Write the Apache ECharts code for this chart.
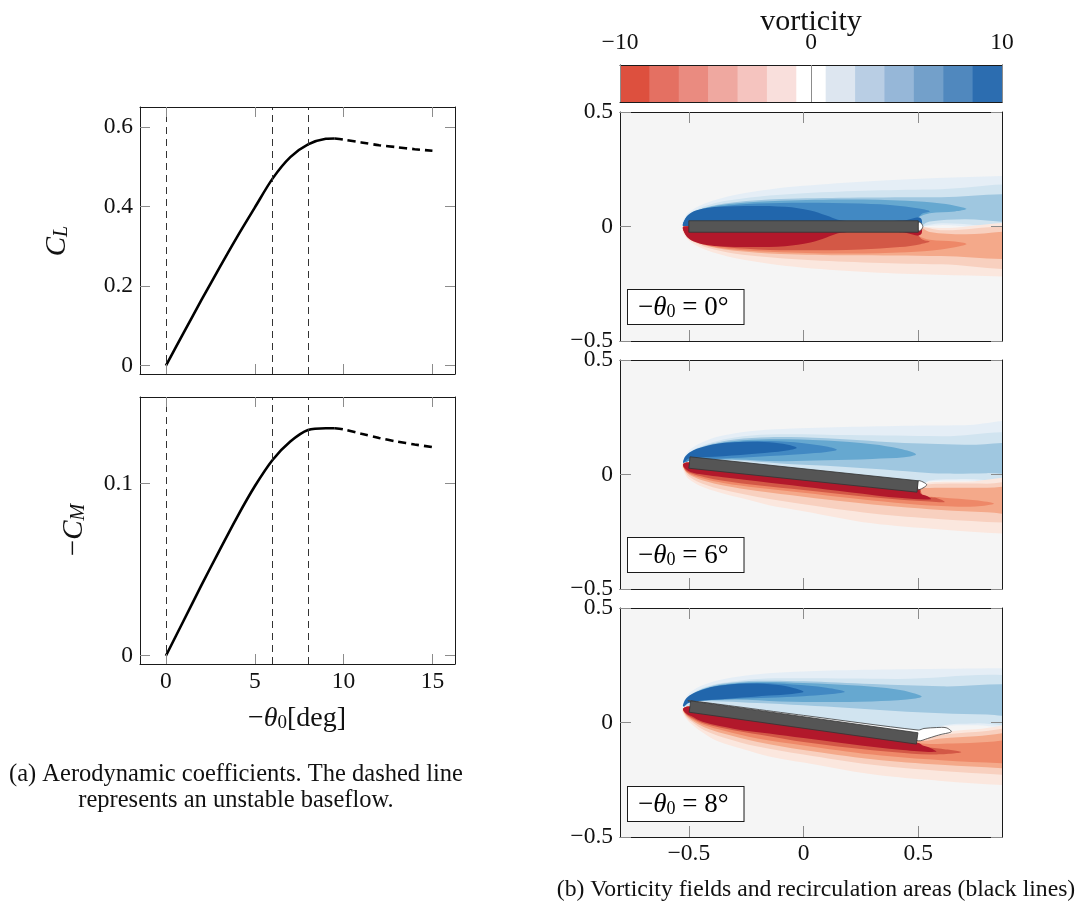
<!DOCTYPE html>
<html>
<head>
<meta charset="utf-8">
<script src="https://cdn.jsdelivr.net/npm/echarts@6/dist/echarts.min.js"></script>
<style>html,body{margin:0;padding:0;background:#fff}#main{width:1083px;height:918px}</style>
</head>
<body>
<div id="main"></div>
<script>
var FONT = 'Liberation Serif';

// (a) aerodynamic coefficients
var thetaStable = [0, 1, 2, 3, 4, 5, 6, 7, 8, 9, 9.5];
var clStable = [0, 0.083, 0.165, 0.245, 0.323, 0.397, 0.47, 0.524, 0.556, 0.57, 0.571];
var cmStable = [0, 0.0205, 0.041, 0.061, 0.0805, 0.0985, 0.1138, 0.1245, 0.1312, 0.1322, 0.1322];
var thetaUnstable = [9.5, 10, 11, 12, 13, 14, 15];
var clUnstable = [0.571, 0.568, 0.561, 0.554, 0.549, 0.544, 0.540];
var cmUnstable = [0.1322, 0.1316, 0.129, 0.1266, 0.1245, 0.1228, 0.1213];
var markedAngles = [0, 6, 8];

var thetaTicks = [0, 5, 10, 15];
var clTicks = [0, 0.2, 0.4, 0.6];
var cmTicks = [0, 0.1];

// colorbar
var cbTicks = [-10, 0, 10];
var cbEdges = [-10, -8.462, -6.923, -5.385, -3.846, -2.308, -0.769, 0.769, 2.308, 3.846, 5.385, 6.923, 8.462, 10];
var cbColors = ['#dd503e', '#e47062', '#ea8b80', '#efa8a0', '#f5c4bf', '#f9dfdc', '#ffffff',
                '#dde6f0', '#b9cee4', '#96b7d8', '#73a0ca', '#5088be', '#2c6db0'];

// (b) vorticity fields
var fieldTicks = [-0.5, 0, 0.5];
var panelAngles = [0, 6, 8];
var plateChord = 1;
var plateThickness = 0.05;
var bluePalette = ['#e5eef6', '#d1e4f0', '#9fc7e0', '#66a8d0', '#4289c3', '#2166ac'];
var redPalette = ['#fbe7de', '#f8d0bf', '#f4a98a', '#ee8868', '#d35846', '#b2182b'];

// contour regions (outer -> inner), in flow coordinates
var upper0 = [
  [[-0.525,0.0],[-0.515,0.045],[-0.48,0.075],[-0.43,0.1],[-0.37,0.12],[-0.29,0.14],[-0.15,0.162],[0.0,0.178],[0.29,0.198],[0.58,0.212],[0.87,0.221],[1.0,0.224],[1.0,0.004],[0.6,0.006],[0.5,0.0],[0.0,0.0]],
  [[-0.52,0.0],[-0.51,0.045],[-0.47,0.072],[-0.41,0.095],[-0.33,0.113],[-0.2,0.13],[0.0,0.145],[0.3,0.157],[0.6,0.163],[1.0,0.167],[1.0,0.012],[0.6,0.014],[0.5,0.0],[0.0,0.0]],
  [[-0.52,0.0],[-0.51,0.04],[-0.47,0.068],[-0.4,0.09],[-0.3,0.106],[-0.1,0.12],[0.2,0.126],[0.6,0.128],[1.0,0.128],[1.0,0.028],[0.7,0.032],[0.55,0.022],[0.5,0.0],[0.0,0.0]],
  [[-0.52,0.0],[-0.51,0.04],[-0.47,0.066],[-0.4,0.087],[-0.3,0.1],[-0.1,0.112],[0.2,0.118],[0.45,0.112],[0.6,0.1],[0.68,0.086],[0.71,0.076],[0.66,0.066],[0.55,0.058],[0.5,0.04],[0.45,0.0],[0.0,0.0]],
  [[-0.52,0.0],[-0.51,0.04],[-0.46,0.066],[-0.38,0.085],[-0.2,0.1],[0.0,0.104],[0.25,0.1],[0.42,0.09],[0.51,0.077],[0.55,0.066],[0.52,0.058],[0.5,0.04],[0.45,0.0],[0.0,0.0]],
  [[-0.522,0.0],[-0.515,0.035],[-0.49,0.06],[-0.44,0.077],[-0.37,0.086],[-0.22,0.09],[-0.08,0.086],[0.03,0.07],[0.1,0.048],[0.15,0.03],[0.2,0.02],[0.2,0.0],[0.0,0.0]],
  [[0.38,0.02],[0.45,0.028],[0.5,0.04],[0.515,0.03],[0.51,0.0],[0.38,0.0]]
];
var upperLevels0 = [0, 1, 2, 3, 4, 5, 5];
var lower0 = [
  [[-0.525,0.0],[-0.515,-0.045],[-0.48,-0.075],[-0.43,-0.1],[-0.37,-0.12],[-0.29,-0.14],[-0.15,-0.163],[0.0,-0.18],[0.29,-0.2],[0.58,-0.211],[0.87,-0.218],[1.0,-0.22],[1.0,-0.005],[0.6,-0.007],[0.5,0.0],[0.0,0.0]],
  [[-0.52,0.0],[-0.51,-0.045],[-0.47,-0.072],[-0.41,-0.095],[-0.33,-0.113],[-0.2,-0.13],[0.0,-0.145],[0.3,-0.158],[0.6,-0.165],[1.0,-0.17],[1.0,-0.014],[0.6,-0.016],[0.5,0.0],[0.0,0.0]],
  [[-0.52,0.0],[-0.51,-0.04],[-0.47,-0.068],[-0.4,-0.09],[-0.3,-0.106],[-0.1,-0.12],[0.2,-0.126],[0.6,-0.129],[1.0,-0.13],[1.0,-0.03],[0.7,-0.034],[0.55,-0.024],[0.5,0.0],[0.0,0.0]],
  [[-0.52,0.0],[-0.51,-0.04],[-0.47,-0.066],[-0.4,-0.087],[-0.3,-0.1],[-0.1,-0.112],[0.2,-0.118],[0.45,-0.112],[0.6,-0.1],[0.68,-0.086],[0.71,-0.076],[0.66,-0.066],[0.55,-0.058],[0.5,-0.04],[0.45,0.0],[0.0,0.0]],
  [[-0.52,0.0],[-0.51,-0.04],[-0.46,-0.066],[-0.38,-0.085],[-0.2,-0.1],[0.0,-0.104],[0.25,-0.1],[0.42,-0.09],[0.51,-0.077],[0.55,-0.066],[0.52,-0.058],[0.5,-0.04],[0.45,0.0],[0.0,0.0]],
  [[-0.522,0.0],[-0.515,-0.035],[-0.49,-0.06],[-0.44,-0.077],[-0.37,-0.086],[-0.22,-0.09],[-0.08,-0.086],[0.03,-0.07],[0.1,-0.048],[0.15,-0.03],[0.2,-0.02],[0.2,0.0],[0.0,0.0]],
  [[0.38,-0.02],[0.45,-0.028],[0.5,-0.04],[0.515,-0.03],[0.51,0.0],[0.38,0.0]]
];
var lowerLevels0 = [0, 1, 2, 3, 4, 5, 5];
var recirc0 = [[0.5,0.02],[0.512,0.015],[0.52,0.0],[0.512,-0.015],[0.5,-0.02]];

var upper6 = [
  [[-0.525,0.05],[-0.515,0.085],[-0.48,0.12],[-0.42,0.15],[-0.34,0.172],[-0.2,0.192],[0.1,0.205],[0.4,0.212],[0.7,0.215],[1.0,0.217],[1.0,-0.022],[0.7,-0.026],[0.55,-0.03],[0.5,-0.052],[-0.5,0.052]],
  [[-0.52,0.05],[-0.51,0.083],[-0.47,0.113],[-0.4,0.14],[-0.3,0.162],[-0.15,0.175],[0.2,0.172],[0.6,0.167],[1.0,0.165],[1.0,-0.016],[0.7,-0.02],[0.55,-0.026],[0.5,-0.052],[-0.5,0.052]],
  [[-0.52,0.05],[-0.51,0.081],[-0.47,0.109],[-0.4,0.134],[-0.3,0.153],[-0.15,0.163],[0.1,0.158],[0.4,0.14],[0.7,0.13],[1.0,0.125],[1.0,0.012],[0.8,0.006],[0.62,0.004],[0.5,0.01],[0.3,0.025],[0.1,0.038],[-0.1,0.048],[-0.3,0.062],[-0.5,0.06]],
  [[-0.52,0.05],[-0.51,0.08],[-0.47,0.106],[-0.4,0.129],[-0.3,0.146],[-0.15,0.154],[0.1,0.148],[0.3,0.132],[0.42,0.112],[0.49,0.088],[0.44,0.075],[0.3,0.068],[0.1,0.062],[-0.1,0.058],[-0.3,0.066],[-0.5,0.06]],
  [[-0.52,0.05],[-0.51,0.079],[-0.47,0.104],[-0.4,0.125],[-0.3,0.14],[-0.15,0.146],[0.0,0.137],[0.1,0.122],[0.145,0.108],[0.1,0.098],[0.0,0.09],[-0.2,0.078],[-0.35,0.07],[-0.5,0.06]],
  [[-0.525,0.05],[-0.515,0.08],[-0.48,0.106],[-0.42,0.126],[-0.33,0.14],[-0.2,0.143],[-0.1,0.135],[-0.03,0.117],[-0.08,0.104],[-0.2,0.092],[-0.35,0.08],[-0.5,0.07]]
];
var upperLevels6 = [0, 1, 2, 3, 4, 5];
var lower6 = [
  [[-0.53,0.045],[-0.52,0.01],[-0.5,-0.02],[-0.45,-0.05],[-0.37,-0.077],[-0.25,-0.108],[-0.15,-0.134],[0.0,-0.16],[0.29,-0.212],[0.6,-0.24],[0.87,-0.258],[1.0,-0.262],[1.0,-0.03],[0.7,-0.032],[0.55,-0.035],[0.5,-0.052],[-0.5,0.052]],
  [[-0.525,0.045],[-0.515,0.01],[-0.49,-0.015],[-0.44,-0.04],[-0.35,-0.067],[-0.2,-0.098],[0.0,-0.13],[0.3,-0.17],[0.6,-0.195],[0.87,-0.21],[1.0,-0.214],[1.0,-0.04],[0.8,-0.04],[0.6,-0.04],[0.52,-0.045],[0.5,-0.052],[-0.5,0.052]],
  [[-0.525,0.045],[-0.515,0.015],[-0.49,-0.005],[-0.43,-0.028],[-0.35,-0.048],[-0.2,-0.072],[0.0,-0.097],[0.2,-0.12],[0.4,-0.14],[0.6,-0.155],[0.8,-0.165],[1.0,-0.17],[1.0,-0.06],[0.8,-0.058],[0.6,-0.058],[0.52,-0.058],[0.5,-0.052],[-0.5,0.052]],
  [[-0.525,0.045],[-0.515,0.018],[-0.49,0.0],[-0.43,-0.02],[-0.35,-0.037],[-0.2,-0.058],[0.0,-0.08],[0.2,-0.103],[0.4,-0.123],[0.6,-0.138],[0.75,-0.14],[0.83,-0.127],[0.75,-0.112],[0.6,-0.1],[0.52,-0.09],[0.5,-0.052],[-0.5,0.052]],
  [[-0.525,0.045],[-0.515,0.02],[-0.49,0.005],[-0.43,-0.012],[-0.35,-0.027],[-0.2,-0.047],[0.0,-0.068],[0.2,-0.09],[0.4,-0.108],[0.55,-0.118],[0.615,-0.12],[0.58,-0.103],[0.52,-0.092],[0.5,-0.052],[-0.5,0.052]],
  [[-0.525,0.045],[-0.515,0.025],[-0.49,0.01],[-0.44,0.0],[-0.35,-0.012],[-0.2,-0.03],[0.0,-0.054],[0.2,-0.077],[0.43,-0.103],[0.555,-0.108],[0.54,-0.095],[0.51,-0.083],[0.5,-0.052],[-0.5,0.052]]
];
var lowerLevels6 = [0, 1, 2, 3, 4, 5];
var recirc6 = [[0.5,-0.027],[0.537,-0.045],[0.5,-0.066]];

var upper8 = [
  [[-0.525,0.07],[-0.515,0.105],[-0.49,0.135],[-0.44,0.163],[-0.37,0.185],[-0.25,0.205],[-0.1,0.218],[0.15,0.228],[0.45,0.233],[0.87,0.237],[1.0,0.238],[1.0,-0.012],[0.75,-0.012],[0.6,-0.02],[0.5,-0.07],[-0.5,0.07]],
  [[-0.52,0.07],[-0.51,0.103],[-0.48,0.13],[-0.43,0.155],[-0.35,0.174],[-0.2,0.19],[0.0,0.193],[0.4,0.19],[1.0,0.185],[1.0,0.0],[0.75,-0.004],[0.6,-0.015],[0.5,-0.07],[-0.5,0.07]],
  [[-0.52,0.07],[-0.51,0.1],[-0.48,0.127],[-0.43,0.151],[-0.35,0.17],[-0.2,0.182],[0.0,0.18],[0.3,0.168],[0.6,0.158],[1.0,0.15],[1.0,0.032],[0.8,0.035],[0.6,0.04],[0.4,0.05],[0.2,0.063],[0.0,0.075],[-0.2,0.085],[-0.35,0.092],[-0.5,0.09]],
  [[-0.52,0.07],[-0.51,0.1],[-0.48,0.125],[-0.43,0.148],[-0.35,0.166],[-0.2,0.177],[0.0,0.173],[0.25,0.16],[0.4,0.145],[0.48,0.128],[0.515,0.112],[0.45,0.1],[0.3,0.092],[0.1,0.09],[-0.1,0.092],[-0.3,0.1],[-0.5,0.09]],
  [[-0.52,0.07],[-0.51,0.1],[-0.48,0.123],[-0.43,0.146],[-0.35,0.163],[-0.2,0.172],[-0.05,0.166],[0.1,0.152],[0.18,0.134],[0.1,0.122],[0.0,0.115],[-0.15,0.108],[-0.3,0.103],[-0.5,0.09]],
  [[-0.525,0.07],[-0.515,0.1],[-0.49,0.122],[-0.44,0.143],[-0.37,0.16],[-0.25,0.17],[-0.12,0.165],[-0.04,0.15],[0.0,0.134],[-0.05,0.125],[-0.15,0.118],[-0.28,0.108],[-0.38,0.1],[-0.45,0.095],[-0.5,0.085]]
];
var upperLevels8 = [0, 1, 2, 3, 4, 5];
var lower8 = [
  [[-0.53,0.06],[-0.52,0.03],[-0.49,-0.005],[-0.43,-0.05],[-0.37,-0.083],[-0.25,-0.12],[-0.15,-0.148],[0.0,-0.175],[0.29,-0.225],[0.6,-0.255],[0.87,-0.273],[1.0,-0.278],[1.0,-0.025],[0.75,-0.03],[0.6,-0.045],[0.5,-0.07],[-0.5,0.07]],
  [[-0.525,0.06],[-0.515,0.03],[-0.49,0.005],[-0.43,-0.035],[-0.35,-0.065],[-0.2,-0.105],[0.0,-0.14],[0.3,-0.185],[0.6,-0.212],[0.87,-0.228],[1.0,-0.232],[1.0,-0.038],[0.75,-0.042],[0.6,-0.055],[0.5,-0.07],[-0.5,0.07]],
  [[-0.525,0.06],[-0.515,0.035],[-0.49,0.012],[-0.43,-0.022],[-0.35,-0.048],[-0.2,-0.085],[0.0,-0.12],[0.3,-0.16],[0.6,-0.185],[0.87,-0.2],[1.0,-0.205],[1.0,-0.055],[0.75,-0.06],[0.6,-0.07],[0.5,-0.08],[-0.5,0.07]],
  [[-0.525,0.06],[-0.515,0.038],[-0.49,0.018],[-0.43,-0.012],[-0.35,-0.035],[-0.2,-0.07],[0.0,-0.1],[0.3,-0.14],[0.6,-0.165],[0.87,-0.178],[1.0,-0.18],[1.0,-0.078],[0.8,-0.085],[0.65,-0.092],[0.5,-0.09],[-0.5,0.07]],
  [[-0.525,0.06],[-0.515,0.04],[-0.49,0.022],[-0.43,-0.005],[-0.3,-0.035],[-0.15,-0.06],[0.0,-0.085],[0.2,-0.11],[0.4,-0.13],[0.55,-0.14],[0.687,-0.13],[0.6,-0.115],[0.52,-0.105],[0.5,-0.09],[-0.5,0.07]],
  [[-0.525,0.06],[-0.515,0.043],[-0.49,0.028],[-0.44,0.003],[-0.3,-0.028],[-0.15,-0.048],[0.0,-0.068],[0.2,-0.094],[0.433,-0.12],[0.578,-0.128],[0.55,-0.11],[0.52,-0.1],[0.5,-0.09],[-0.5,0.07]]
];
var lowerLevels8 = [0, 1, 2, 3, 4, 5];
var recirc8 = [[-0.5,0.094],[0.0,0.031],[0.5,-0.033],[0.525,-0.026],[0.58,-0.022],[0.622,-0.023],[0.644,-0.04],[0.6,-0.052],[0.578,-0.058],[0.54,-0.07],[0.5,-0.08]];

var panels = [
  { upper: upper0, upperLevels: upperLevels0, lower: lower0, lowerLevels: lowerLevels0, recirc: recirc0 },
  { upper: upper6, upperLevels: upperLevels6, lower: lower6, lowerLevels: lowerLevels6, recirc: recirc6 },
  { upper: upper8, upperLevels: upperLevels8, lower: lower8, lowerLevels: lowerLevels8, recirc: recirc8 }
];

function minus(v) { return String(v).replace('-', '\u2212'); }

var grids = [
  { left: 140, top: 107, width: 315, height: 267 },
  { left: 140, top: 397, width: 315, height: 267 },
  { left: 620, top: 65, width: 382, height: 37 },
  { left: 620, top: 112, width: 382, height: 229, show: true, borderWidth: 0, backgroundColor: '#f5f5f5' },
  { left: 620, top: 360, width: 382, height: 229, show: true, borderWidth: 0, backgroundColor: '#f5f5f5' },
  { left: 620, top: 608, width: 382, height: 229, show: true, borderWidth: 0, backgroundColor: '#f5f5f5' }
];
grids.forEach(function (g) { g.containLabel = false; g.outerBoundsMode = 'none'; });

var TICK_FONT = 23.5;

function axis(gi, pos, min, max, ticks, labels, tickLen, labelMargin) {
  return {
    type: 'value', gridIndex: gi, position: pos, min: min, max: max, z: 5,
    axisLine: { show: true, onZero: false, lineStyle: { color: '#1a1a1a', width: 1 } },
    axisTick: { show: ticks.length > 0, inside: true, length: tickLen, customValues: ticks,
                lineStyle: { color: '#8c8c8c', width: 1 } },
    axisLabel: { show: labels, customValues: ticks, margin: labelMargin || 7, showMinLabel: true, showMaxLabel: true,
                 fontFamily: FONT, fontSize: TICK_FONT, color: '#111', formatter: minus },
    splitLine: { show: false }
  };
}

var xAxes = [
  axis(0, 'bottom', -1.46, 16.27, thetaTicks, false, 10), axis(0, 'top', -1.46, 16.27, thetaTicks, false, 10),
  axis(1, 'bottom', -1.46, 16.27, thetaTicks, true, 10, 6), axis(1, 'top', -1.46, 16.27, thetaTicks, false, 10),
  axis(2, 'top', -10, 10, cbTicks, true, 37, 10), axis(2, 'bottom', -10, 10, [], false, 0),
  axis(3, 'bottom', -0.8, 0.865, fieldTicks, false, 11), axis(3, 'top', -0.8, 0.865, fieldTicks, false, 11),
  axis(4, 'bottom', -0.8, 0.865, fieldTicks, false, 11), axis(4, 'top', -0.8, 0.865, fieldTicks, false, 11),
  axis(5, 'bottom', -0.8, 0.865, fieldTicks, true, 11, 5), axis(5, 'top', -0.8, 0.865, fieldTicks, false, 11)
];
var yAxes = [
  axis(0, 'left', -0.021, 0.65, clTicks, true, 10), axis(0, 'right', -0.021, 0.65, clTicks, false, 10),
  axis(1, 'left', -0.0048, 0.1504, cmTicks, true, 10), axis(1, 'right', -0.0048, 0.1504, cmTicks, false, 10),
  axis(2, 'left', 0, 1, [], false, 0), axis(2, 'right', 0, 1, [], false, 0),
  axis(3, 'left', -0.5, 0.5, fieldTicks, true, 11), axis(3, 'right', -0.5, 0.5, fieldTicks, false, 11),
  axis(4, 'left', -0.5, 0.5, fieldTicks, true, 11), axis(4, 'right', -0.5, 0.5, fieldTicks, false, 11),
  axis(5, 'left', -0.5, 0.5, fieldTicks, true, 11), axis(5, 'right', -0.5, 0.5, fieldTicks, false, 11)
];

function pairs(xs, ys) { return xs.map(function (x, i) { return [x, ys[i]]; }); }

var vLines = {
  silent: true, symbol: ['none', 'none'], label: { show: false },
  lineStyle: { color: '#333', width: 1, type: [7, 5] },
  data: markedAngles.map(function (a) { return { xAxis: a }; })
};

var series = [
  { type: 'line', xAxisIndex: 0, yAxisIndex: 0, data: pairs(thetaStable, clStable), smooth: 0.3, showSymbol: false,
    lineStyle: { color: '#000', width: 2.6 }, markLine: vLines },
  { type: 'line', xAxisIndex: 0, yAxisIndex: 0, data: pairs(thetaUnstable, clUnstable), smooth: 0.3, showSymbol: false,
    lineStyle: { color: '#000', width: 2.6, type: [8, 5] } },
  { type: 'line', xAxisIndex: 2, yAxisIndex: 2, data: pairs(thetaStable, cmStable), smooth: 0.3, showSymbol: false,
    lineStyle: { color: '#000', width: 2.6 }, markLine: vLines },
  { type: 'line', xAxisIndex: 2, yAxisIndex: 2, data: pairs(thetaUnstable, cmUnstable), smooth: 0.3, showSymbol: false,
    lineStyle: { color: '#000', width: 2.6, type: [8, 5] } },
  { type: 'custom', xAxisIndex: 4, yAxisIndex: 4, clip: true,
    data: cbColors.map(function () { return [0, 0]; }),
    renderItem: function (params, api) {
      var i = params.dataIndex;
      var p0 = api.coord([cbEdges[i], 1]);
      var p1 = api.coord([cbEdges[i + 1], 0]);
      return { type: 'rect', shape: { x: p0[0], y: p0[1], width: p1[0] - p0[0] + 0.6, height: p1[1] - p0[1] },
               style: { fill: cbColors[i] } };
    } }
];

function polySeries(gi, shapes, fills, stroke, smooth, z) {
  return {
    type: 'custom', xAxisIndex: 2 * gi, yAxisIndex: 2 * gi, clip: true, z: z, silent: true,
    data: shapes.map(function () { return [0, 0]; }),
    renderItem: function (params, api) {
      var pts = shapes[params.dataIndex].map(function (p) { return api.coord(p); });
      return { type: 'polygon', shape: { points: pts, smooth: smooth },
               style: { fill: fills[params.dataIndex], stroke: stroke, lineWidth: stroke ? 0.8 : 0 } };
    }
  };
}

function plateShape(angleDeg) {
  var a = angleDeg * Math.PI / 180, c = Math.cos(a), s = Math.sin(a);
  var hx = plateChord / 2, hy = plateThickness / 2;
  return [[-hx, hy], [hx, hy], [hx, -hy], [-hx, -hy]].map(function (p) {
    return [p[0] * c + p[1] * s, -p[0] * s + p[1] * c];
  });
}

panels.forEach(function (p, k) {
  var gi = 3 + k;
  var shapes = p.upper.concat(p.lower);
  var fills = p.upperLevels.map(function (l) { return bluePalette[l]; })
    .concat(p.lowerLevels.map(function (l) { return redPalette[l]; }));
  series.push(polySeries(gi, shapes, fills, null, 0.35, 2));
  series.push(polySeries(gi, [p.recirc], ['#ffffff'], '#3a3a3a', 0.3, 3));
  series.push(polySeries(gi, [plateShape(panelAngles[k])], ['#555555'], '#333333', 0, 4));
});

function richSet(size) {
  var sub = Math.round(size * 0.68);
  return {
    n: { fontFamily: FONT, fontSize: size, color: '#111' },
    i: { fontFamily: FONT, fontSize: size, fontStyle: 'italic', color: '#111' },
    s: { fontFamily: FONT, fontSize: sub, color: '#111', verticalAlign: 'bottom', lineHeight: sub },
    si: { fontFamily: FONT, fontSize: sub, fontStyle: 'italic', color: '#111', verticalAlign: 'bottom', lineHeight: sub }
  };
}

function label(x, y, text, size, extra) {
  var el = { type: 'text', x: x, y: y, z: 100,
    style: { text: text, rich: richSet(size), align: 'center', verticalAlign: 'middle', fontFamily: FONT, fontSize: size, fill: '#111' } };
  for (var k in extra) { el[k] = extra[k]; }
  return el;
}

function legendBox(top, angle) {
  return { type: 'text', x: 628, y: top, z: 100,
    style: { text: '{n|\u2212}{i|\u03b8}{s|0}{n| = ' + angle + '\u00b0}', rich: richSet(27), align: 'left', verticalAlign: 'top',
             backgroundColor: '#ffffff', borderColor: '#1a1a1a', borderWidth: 1, padding: [4, 15, 3, 10] } };
}

var graphics = [
  label(57, 241, '{i|C}{si|L}', 29, { rotation: Math.PI / 2 }),
  label(74, 530, '{n|\u2212}{i|C}{si|M}', 29, { rotation: Math.PI / 2 }),
  label(297, 719, '{n|\u2212}{i|\u03b8}{s|0}{n|[deg]}', 28),
  label(236, 775, '(a) Aerodynamic coefficients. The dashed line', 24.5),
  label(236, 801, 'represents an unstable baseflow.', 24.5),
  label(811, 22, 'vorticity', 30),
  label(816, 890, '(b) Vorticity fields and recirculation areas (black lines)', 23.7),
  legendBox(290, panelAngles[0]),
  legendBox(538, panelAngles[1]),
  legendBox(787, panelAngles[2])
];

var chart = echarts.init(document.getElementById('main'));
chart.setOption({
  animation: false,
  backgroundColor: '#ffffff',
  textStyle: { fontFamily: FONT },
  grid: grids,
  xAxis: xAxes,
  yAxis: yAxes,
  series: series,
  graphic: graphics
});
window.addEventListener('resize', function () { chart.resize(); });
</script>
</body>
</html>
